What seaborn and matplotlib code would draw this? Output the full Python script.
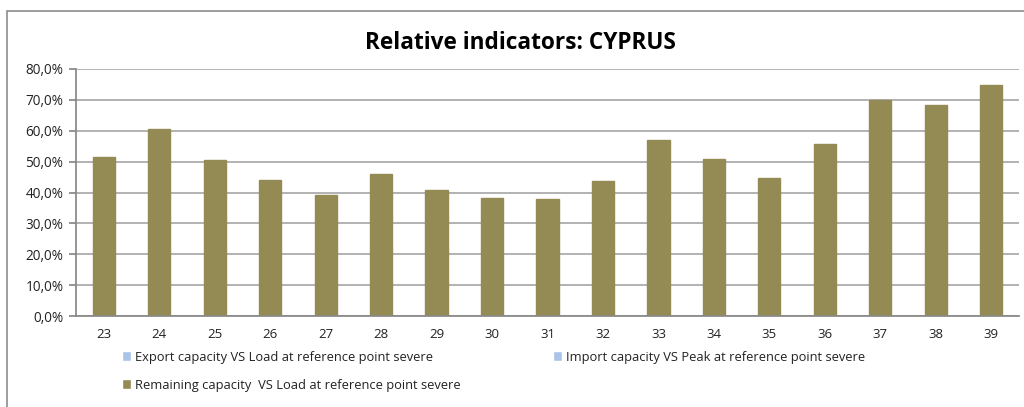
import numpy as np
import pandas as pd
import seaborn as sns
import matplotlib.pyplot as plt
from matplotlib.patches import Patch, Rectangle
from matplotlib.ticker import FuncFormatter, FixedLocator

# Chart values
categories = ["23", "24", "25", "26", "27", "28", "29", "30", "31",
              "32", "33", "34", "35", "36", "37", "38", "39"]
remaining = [51.5, 60.6, 50.5, 44.0, 39.2, 46.0, 40.8, 38.2, 37.9,
             43.7, 57.1, 50.8, 44.8, 55.7, 70.0, 68.3, 74.8]
series_names = ["Export capacity VS Load at reference point severe",
                "Import capacity VS Peak at reference point severe",
                "Remaining capacity  VS Load at reference point severe"]

df = pd.DataFrame({"point": categories, "value": remaining})

sns.set_theme(style="white")
plt.rcParams["font.family"] = ["Open Sans", "DejaVu Sans"]

fig = plt.figure(figsize=(10.24, 4.07), dpi=100)
ax = fig.add_axes([76 / 1024, 1 - 316 / 407, (1019 - 76) / 1024, (316 - 69) / 407])

sns.barplot(data=df, x="point", y="value", color="#948A54", saturation=1,
            width=0.4, ax=ax, edgecolor="#948A54")

ax.set_ylim(0, 80)
ax.set_xlim(-0.5, len(categories) - 0.5)
ax.set_yticks(np.arange(0, 81, 10))
ax.yaxis.set_major_formatter(FuncFormatter(lambda v, p: f"{v:.1f}%".replace(".", ",")))
ax.grid(axis="y", color="#a6a6a6", linewidth=1.2)
ax.set_axisbelow(True)
ax.set_xlabel("")
ax.set_ylabel("")

for s in ["top", "right"]:
    ax.spines[s].set_visible(False)
ax.spines["left"].set_color("#888888")
ax.spines["bottom"].set_color("#888888")

ax.tick_params(axis="x", which="major", length=0, pad=9, labelsize=9.5, labelcolor="#222222")
ax.xaxis.set_minor_locator(FixedLocator(np.arange(-0.5, len(categories), 1)))
ax.tick_params(axis="x", which="minor", length=5, color="#888888", direction="out")
ax.tick_params(axis="y", length=5, color="#888888", direction="out", labelsize=9.8,
               labelcolor="#222222", left=True, pad=4)

fig.text(0.508, 0.895, "Relative indicators: CYPRUS", ha="center", va="center",
         fontsize=16.3, fontweight="bold", color="black")

# legend
blue = "#a9c4e8"
olive = "#948A54"
fig.legend([Patch(facecolor=blue), Patch(facecolor=blue)], series_names[:2],
           loc="center left", bbox_to_anchor=(0.108, 1 - 357 / 407), ncol=2,
           frameon=False, fontsize=9.3, handlelength=0.7, handleheight=0.7,
           handletextpad=0.3, columnspacing=9.3, labelcolor="#222222")
fig.legend([Patch(facecolor=olive)], series_names[2:],
           loc="center left", bbox_to_anchor=(0.108, 1 - 385 / 407),
           frameon=False, fontsize=9.3, handlelength=0.7, handleheight=0.7,
           handletextpad=0.3, labelcolor="#222222")

# chart border
fig.add_artist(Rectangle((7 / 1024, -0.1), 1.2, 1 - 11 / 407 + 0.1,
                         transform=fig.transFigure, fill=False,
                         edgecolor="#8c8c8c", linewidth=1.2))

fig.savefig("out.png", dpi=100)
